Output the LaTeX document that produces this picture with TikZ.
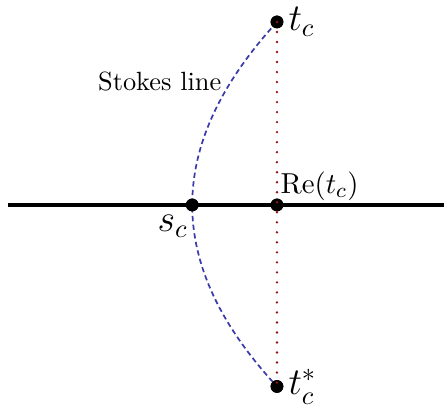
\documentclass[tikz,border=0pt]{standalone}
\usepackage{amsmath}
\usetikzlibrary{positioning}
\definecolor{stokesblue}{RGB}{58,58,168}
\definecolor{vertred}{RGB}{150,20,20}
\tikzset{
  pt/.style={circle, fill=black, inner sep=0pt, minimum size=0.17cm},
  axis/.style={draw=black, line width=1.2pt},
  stokes/.style={draw=stokesblue, line width=0.65pt, dash pattern=on 2pt off 1.3pt},
  vert/.style={draw=vertred, line width=1pt, line cap=round, dash pattern=on 0pt off 3.8pt},
  lbl/.style={font=\Large, inner sep=1pt},
}
\begin{document}
\begin{tikzpicture}
  \useasboundingbox (-3.693,-2.707) rectangle (2.227,2.733);

  \coordinate (L) at (-3.59,0);
  \coordinate (R) at (2.227,0);
  \draw[axis] (L) -- (R);

  \node[pt] (tc) at (0,2.44) {};
  \node[pt] (tcs) at (0,-2.42) {};
  \node[pt] (sc) at (-1.13,0) {};
  \node[pt] (retc) at (0,0) {};

  % Stokes line through s_c
  \draw[stokes] (tc.center) .. controls (-0.75,1.62) and (-1.13,0.81) .. (sc.center)
                .. controls (-1.13,-0.81) and (-0.75,-1.61) .. (tcs.center);
  \node[pt] at (sc) {};
  \node[pt] at (tc) {};
  \node[pt] at (tcs) {};
  \node[pt] at (retc) {};

  \draw[vert] (tc.center) -- (tcs.center);

  \node[lbl, right=0.02cm of tc] (tclbl) {$t_c$};
  \node[lbl, right=0.02cm of tcs] (tcslbl) {$t_c^*$};
  \node[lbl, below left=0.03cm and -0.05cm of sc] (sclbl) {$s_c$};
  \node[inner sep=1pt, font=\fontsize{10.8}{13}\selectfont,
        above right=-0.05cm and -0.06cm of retc] (relbl) {$\mathrm{Re}(t_c)$};
  \node[anchor=east, inner sep=1pt] (stlbl) at (-0.7,1.64) {Stokes line};
\end{tikzpicture}
\end{document}
